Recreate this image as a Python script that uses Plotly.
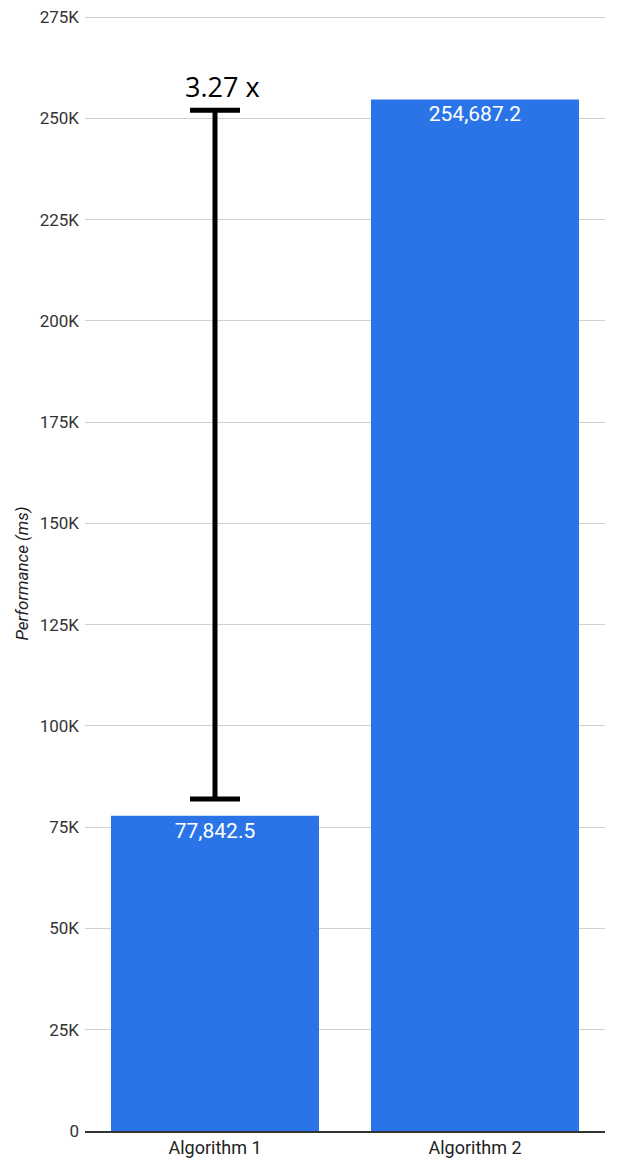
import plotly.graph_objects as go

# Data
algorithms = ["Algorithm 1", "Algorithm 2"]
performance_ms = [77842.5, 254687.2]
bar_labels = ["77,842.5", "254,687.2"]

# speed-up marker (drawn over Algorithm 1)
speedup_label = "3.27 x"
speedup_low = 82000
speedup_high = 252000
speedup_text_y = 258000

tick_vals = [0, 25000, 50000, 75000, 100000, 125000, 150000, 175000, 200000, 225000, 250000, 275000]
tick_text = ["0", "25K", "50K", "75K", "100K", "125K", "150K", "175K", "200K", "225K", "250K", "275K"]

fig = go.Figure()

fig.add_trace(go.Bar(
    x=algorithms, y=performance_ms,
    marker=dict(color="#2a74e8", line=dict(width=0)),
    text=bar_labels, textposition="inside", insidetextanchor="end",
    textfont=dict(family="Roboto", size=21, color="white"),
    textangle=0, constraintext="none",
    hoverinfo="skip",
))

# vertical bar with caps, as a symmetric error bar around the midpoint
mid = (speedup_low + speedup_high) / 2
fig.add_trace(go.Scatter(
    x=[algorithms[0]], y=[mid], mode="markers",
    marker=dict(size=1, opacity=0),
    error_y=dict(type="data", array=[speedup_high - mid], symmetric=True,
                 color="black", thickness=5, width=25),
    hoverinfo="skip",
))

fig.add_annotation(
    x=algorithms[0], y=speedup_text_y, text=speedup_label, showarrow=False,
    xshift=7, font=dict(family="Open Sans", size=27, color="black"),
)

fig.update_xaxes(
    showgrid=False, showline=True, linecolor="#333", linewidth=1.5,
    tickfont=dict(family="Roboto", size=18, color="#222"), ticks="",
)
fig.update_yaxes(
    range=[0, 275300], tickvals=tick_vals, ticktext=tick_text,
    showgrid=True, gridcolor="#d0d0d0", gridwidth=1, zeroline=False,
    tickfont=dict(family="Roboto", size=17, color="#333"),
    title=dict(text="<i>Performance (ms)</i>", font=dict(family="Roboto", size=17, color="#222"), standoff=6),
    ticks="", ticklabelstandoff=5, ticklabeloverflow="allow",
)

# page body adds an 8px offset, so the figure is sized/margined to compensate
fig.update_layout(
    width=614, height=1164,
    margin=dict(l=77, r=17, t=8, b=41, autoexpand=False),
    plot_bgcolor="white", paper_bgcolor="white",
    bargap=0.2, showlegend=False,
)

fig.write_html("out.html")
